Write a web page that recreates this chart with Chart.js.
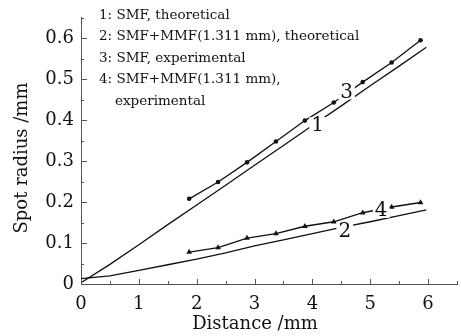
<!DOCTYPE html>
<html>
<head>
<meta charset="utf-8">
<script src="https://cdn.jsdelivr.net/npm/chart.js@4.4.0/dist/chart.umd.min.js"></script>
<style>
  html, body { margin: 0; padding: 0; background: #fff; }
  canvas { display: block; }
</style>
</head>
<body>
<canvas id="chart" width="461" height="336"></canvas>
<script>
// theoretical curves
const xTheory = [0, 0.5, 1, 1.5, 2, 2.5, 3, 3.5, 4, 4.5, 5, 5.5, 5.97];
const smfTheory = [0.003, 0.048, 0.096, 0.145, 0.193, 0.241, 0.290, 0.338, 0.387, 0.435, 0.484, 0.532, 0.578];
const mmfTheory = [0.013, 0.020, 0.033, 0.047, 0.061, 0.076, 0.093, 0.108, 0.123, 0.138, 0.152, 0.167, 0.181];

// experimental points
const xExp = [1.87, 2.37, 2.87, 3.37, 3.87, 4.37, 4.87, 5.37, 5.87];
const smfExp = [0.208, 0.249, 0.297, 0.348, 0.399, 0.443, 0.493, 0.541, 0.595];
const mmfExp = [0.078, 0.089, 0.112, 0.123, 0.141, 0.152, 0.174, 0.188, 0.199];

const xTicks = [0, 1, 2, 3, 4, 5, 6];
const yTicks = [0, 0.1, 0.2, 0.3, 0.4, 0.5, 0.6];
const yTickLabels = ['0', '0.1', '0.2', '0.3', '0.4', '0.5', '0.6'];

const legendLines = [
  '1: SMF, theoretical',
  '2: SMF+MMF(1.311 mm), theoretical',
  '3: SMF, experimental',
  '4: SMF+MMF(1.311 mm),',
  'experimental'
];
const curveNames = ['1', '2', '3', '4'];
const curveNameX = [4.09, 4.56, 4.59, 5.19];
const curveNameY = [0.388, 0.129, 0.470, 0.181];

const serif = '"DejaVu Serif", serif';
const axisColor = '#555';

const toPoints = (xs, ys) => xs.map((x, i) => ({ x: x, y: ys[i] }));

// curve numbers sit on the lines, on a white patch
const curveLabels = {
  id: 'curveLabels',
  afterDatasetsDraw(chart) {
    const ctx = chart.ctx, sx = chart.scales.x, sy = chart.scales.y;
    ctx.save();
    ctx.font = '20px ' + serif;
    ctx.textAlign = 'center';
    ctx.textBaseline = 'middle';
    curveNames.forEach((t, i) => {
      const px = sx.getPixelForValue(curveNameX[i]);
      const py = sy.getPixelForValue(curveNameY[i]);
      const w = ctx.measureText(t).width + 4;
      ctx.fillStyle = '#fff';
      ctx.fillRect(px - w / 2, py - 8, w, 16);
      ctx.fillStyle = '#111';
      ctx.fillText(t, px, py + 1);
    });
    ctx.restore();
  }
};

// inward ticks, axis titles and the text legend
const decorations = {
  id: 'decorations',
  afterDraw(chart) {
    const ctx = chart.ctx, sx = chart.scales.x, sy = chart.scales.y;
    const a = chart.chartArea;
    ctx.save();
    ctx.strokeStyle = axisColor;
    ctx.lineWidth = 1;
    ctx.beginPath();
    for (let v = 0; v <= 6.5001; v += 0.5) {
      const px = Math.round(sx.getPixelForValue(v)) + 0.5;
      const len = Math.abs(v - Math.round(v)) < 1e-6 ? 5 : 3;
      ctx.moveTo(px, a.bottom);
      ctx.lineTo(px, a.bottom - len);
    }
    for (let v = 0; v <= 0.6501; v += 0.05) {
      const py = Math.round(sy.getPixelForValue(v)) + 0.5;
      const len = Math.abs(v * 10 - Math.round(v * 10)) < 1e-6 ? 6 : 3;
      ctx.moveTo(a.left, py);
      ctx.lineTo(a.left + len, py);
    }
    ctx.stroke();

    ctx.fillStyle = '#111';
    ctx.font = '18px ' + serif;
    ctx.textAlign = 'center';
    ctx.textBaseline = 'middle';
    ctx.fillText('Distance /mm', 255, 324);
    ctx.save();
    ctx.translate(22, 158);
    ctx.rotate(-Math.PI / 2);
    ctx.fillText('Spot radius /mm', 0, 0);
    ctx.restore();

    ctx.font = '13.5px ' + serif;
    ctx.textAlign = 'left';
    legendLines.forEach((t, i) => {
      ctx.fillText(t, i === 4 ? 115 : 99, 15 + i * 21.6);
    });
    ctx.restore();
  }
};

new Chart(document.getElementById('chart'), {
  type: 'scatter',
  data: {
    datasets: [
      {
        data: toPoints(xTheory, smfTheory),
        showLine: true,
        borderColor: '#111',
        borderWidth: 1.3,
        pointRadius: 0
      },
      {
        data: toPoints(xTheory, mmfTheory),
        showLine: true,
        borderColor: '#111',
        borderWidth: 1.3,
        pointRadius: 0
      },
      {
        data: toPoints(xExp, smfExp),
        showLine: true,
        borderColor: '#111',
        backgroundColor: '#111',
        borderWidth: 1.3,
        pointStyle: 'circle',
        pointRadius: 2.3,
        pointBorderWidth: 0
      },
      {
        data: toPoints(xExp, mmfExp),
        showLine: true,
        borderColor: '#111',
        backgroundColor: '#111',
        borderWidth: 1.3,
        pointStyle: 'triangle',
        pointRadius: 3.3,
        pointBorderWidth: 0
      }
    ]
  },
  options: {
    responsive: false,
    animation: false,
    devicePixelRatio: 1,
    layout: { padding: { top: 6, right: 4, left: 0, bottom: 0 } },
    plugins: {
      legend: { display: false },
      tooltip: { enabled: false }
    },
    scales: {
      x: {
        type: 'linear',
        min: 0,
        max: 6.5,
        afterBuildTicks: s => { s.ticks = xTicks.map(v => ({ value: v })); },
        afterFit: s => { s.height = 52; },
        grid: { drawOnChartArea: false, drawTicks: false },
        border: { display: true, color: axisColor, width: 1 },
        ticks: {
          color: '#111',
          padding: 10,
          font: { family: serif, size: 18 },
          callback: v => String(v)
        }
      },
      y: {
        type: 'linear',
        min: 0,
        max: 0.65,
        afterBuildTicks: s => { s.ticks = yTicks.map(v => ({ value: v })); },
        afterFit: s => { s.width = 81; },
        grid: { drawOnChartArea: false, drawTicks: false },
        border: { display: true, color: axisColor, width: 1 },
        ticks: {
          color: '#111',
          padding: 7,
          font: { family: serif, size: 18 },
          callback: (v, i) => yTickLabels[i]
        }
      }
    }
  },
  plugins: [curveLabels, decorations]
});
</script>
</body>
</html>
